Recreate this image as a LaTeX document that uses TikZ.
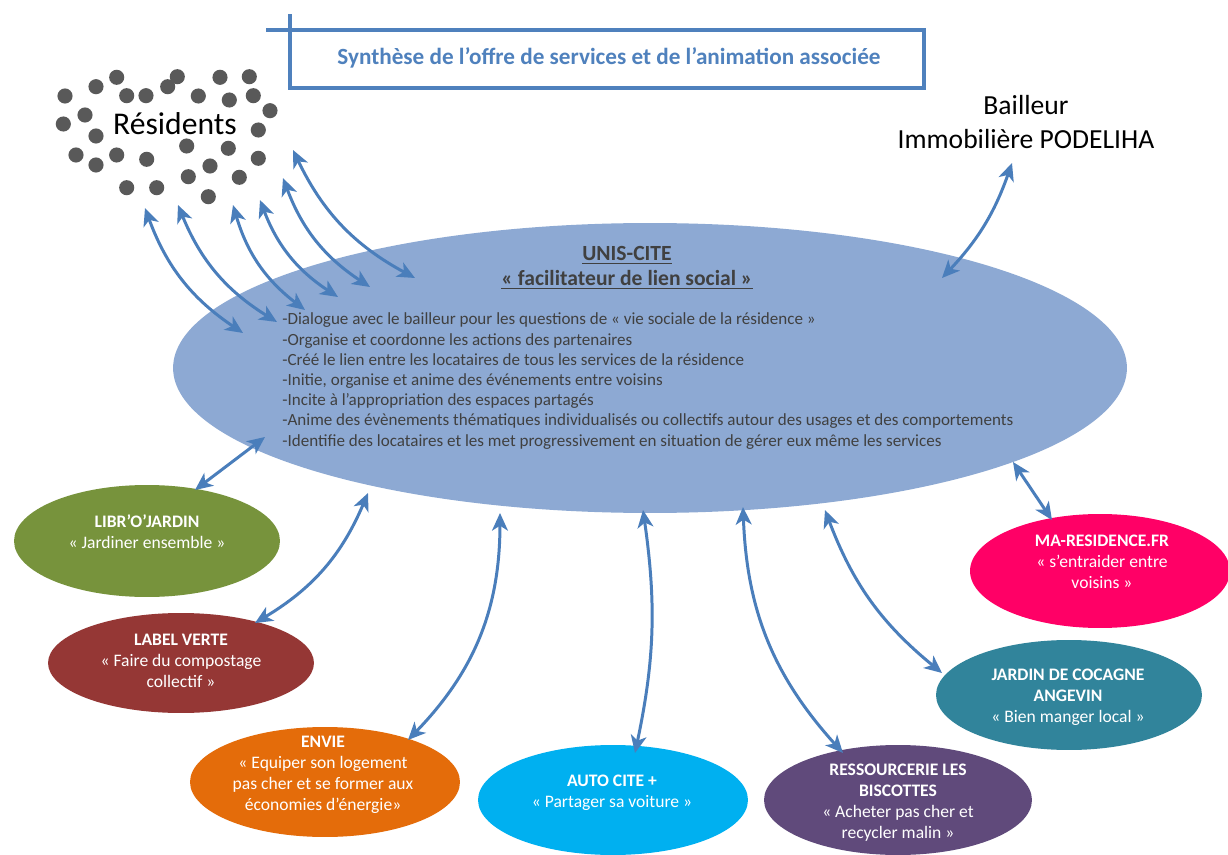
\documentclass[tikz,border=0pt]{standalone}
\usepackage{fontspec}
\setmainfont{Carlito}
\usetikzlibrary{shapes.geometric,arrows.meta}
\definecolor{mainblue}{RGB}{141,169,211}
\definecolor{arrowblue}{RGB}{74,126,187}
\definecolor{boxblue}{RGB}{79,129,189}
\definecolor{dotgray}{RGB}{89,89,89}
\definecolor{txtgray}{RGB}{64,64,64}
\definecolor{cgreen}{RGB}{119,147,60}
\definecolor{cred}{RGB}{149,55,53}
\definecolor{corange}{RGB}{228,108,10}
\definecolor{ccyan}{RGB}{0,176,240}
\definecolor{cpurple}{RGB}{96,74,123}
\definecolor{cteal}{RGB}{49,132,155}
\definecolor{cpink}{RGB}{255,0,102}
\begin{document}
\begin{tikzpicture}[x=0.02cm,y=-0.02cm,
  svc/.style={ellipse, draw=none, inner sep=0pt},
  svctext/.style={text=white, align=center, font=\fontsize{10}{11.9}\selectfont},
  link/.style={draw=arrowblue, line width=1.7pt,
    {Stealth[length=10pt,width=9pt,inset=2.8pt]}-{Stealth[length=10pt,width=9pt,inset=2.8pt]}},
  dot/.style={fill=dotgray},
]
\useasboundingbox (0,0) rectangle (1228,855);
\fill[white] (0,0) rectangle (1228,855);

% title box
\draw[boxblue, line width=2.3pt, line join=miter] (266,30) -- (924,30) -- (924,88) -- (290,88) -- (290,14);
\node[font=\bfseries\fontsize{13.2}{15}\selectfont, text=boxblue] (title) at (609,58)
  {Synthèse de l’offre de services et de l’animation associée};

% residents dots
\foreach \px/\py in {116.7/77.3, 96/86.7, 65/96, 126.7/95.7, 146/95.7, 167.7/86.7, 177.3/76.7,
  198.3/96, 220/77.3, 249.3/76.7, 229.3/100, 253.3/95.7, 270/110.7, 63.3/124, 85/115, 96/136,
  258.3/130, 186.7/146, 228.3/148.3, 76/155, 96/165, 116.7/155, 146.7/159.3, 210/166,
  258.3/158.3, 188.3/176.7, 239.3/177.3, 126.7/187.7, 156.7/187.7, 208.3/196.7}
  \fill[dot] (\px,\py) circle[radius=4.3pt];
\node[font=\fontsize{18}{20}\selectfont] (res) at (175,124) {Résidents};

% bailleur
\node[align=center, font=\fontsize{15.7}{19.8}\selectfont] (bail) at (1026,122)
  {Bailleur\\Immobilière PODELIHA};

% main ellipse
\node[svc, fill=mainblue, minimum width=19.08cm, minimum height=5.8cm] (unis) at (650,368) {};
\node[font=\bfseries\fontsize{12.3}{14}\selectfont, text=txtgray] (unist) at (627,255) {\underline{UNIS-CITE}};
\node[font=\bfseries\fontsize{12.3}{14}\selectfont, text=txtgray] (uniss) at (627,280) {\underline{« facilitateur de lien social »}};
\node[anchor=west, align=left, text=txtgray, font=\fontsize{9.7}{11.5}\selectfont, inner sep=0pt] (unisl) at (282,381)
  {-Dialogue avec le bailleur pour les questions de « vie sociale de la résidence »\\
   -Organise et coordonne les actions des partenaires\\
   -Créé le lien entre les locataires de tous les services de la résidence\\
   -Initie, organise et anime des événements entre voisins\\
   -Incite à l’appropriation des espaces partagés\\
   -Anime des évènements thématiques individualisés ou collectifs autour des usages et des comportements\\
   -Identifie des locataires et les met progressivement en situation de gérer eux même les services};

% service ellipses
\node[svc, fill=cgreen, minimum width=5.32cm, minimum height=2.24cm] (libr) at (147,541) {};
\node[svctext] (librt) at (147,532) {\textbf{LIBR’O’JARDIN}\\« Jardiner ensemble »};

\node[svc, fill=cred, minimum width=5.32cm, minimum height=2.0cm] (label) at (181,663) {};
\node[svctext] (labelt) at (181,661) {\textbf{LABEL VERTE}\\« Faire du compostage\\collectif »};

\node[svc, fill=corange, minimum width=5.4cm, minimum height=2.2cm] (envie) at (325,782) {};
\node[svctext] (enviet) at (323,775) {\textbf{ENVIE}\\« Equiper son logement\\pas cher et se former aux\\économies d’énergie»};

\node[svc, fill=ccyan, minimum width=5.4cm, minimum height=2.2cm] (auto) at (613,800) {};
\node[svctext] (autot) at (612,793) {\textbf{AUTO CITE +}\\« Partager sa voiture »};

\node[svc, fill=cpurple, minimum width=5.36cm, minimum height=2.2cm] (ress) at (898,800) {};
\node[svctext] (resst) at (898,803) {\textbf{RESSOURCERIE LES}\\\textbf{BISCOTTES}\\« Acheter pas cher et\\recycler malin »};

\node[svc, fill=cteal, minimum width=5.32cm, minimum height=2.2cm] (cocagne) at (1069,695) {};
\node[svctext] (cocagnet) at (1068,697) {\textbf{JARDIN DE COCAGNE}\\\textbf{ANGEVIN}\\« Bien manger local »};

\node[svc, fill=cpink, minimum width=5.2cm, minimum height=2.28cm] (mares) at (1100,571) {};
\node[svctext] (marest) at (1102,562) {\textbf{MA-RESIDENCE.FR}\\« s’entraider entre\\voisins »};

% arrow end points
\coordinate (r1a) at (145,208); \coordinate (r1b) at (243,333);
\coordinate (r2a) at (178,205); \coordinate (r2b) at (277,322);
\coordinate (r3a) at (233,205); \coordinate (r3b) at (305,310);
\coordinate (r4a) at (260,200); \coordinate (r4b) at (338,297);
\coordinate (r5a) at (283,178); \coordinate (r5b) at (370,287);
\coordinate (r6a) at (293,150); \coordinate (r6b) at (415,278);
\coordinate (ba) at (1012,163); \coordinate (bb) at (942,278);
\coordinate (l1a) at (265,437); \coordinate (l1b) at (195,490);
\coordinate (l2a) at (368,493); \coordinate (l2b) at (255,623);
\coordinate (l3a) at (500,513); \coordinate (l3b) at (408,740);
\coordinate (l4a) at (643,510); \coordinate (l4b) at (635,753);
\coordinate (l5a) at (743,507); \coordinate (l5b) at (843,753);
\coordinate (l6a) at (825,510); \coordinate (l6b) at (942,673);
\coordinate (l7a) at (1013,462); \coordinate (l7b) at (1052,520);

% arrows
\draw[link] (r1a) to[bend right=18] (r1b);
\draw[link] (r2a) to[bend right=18] (r2b);
\draw[link] (r3a) to[bend right=18] (r3b);
\draw[link] (r4a) to[bend right=18] (r4b);
\draw[link] (r5a) to[bend right=18] (r5b);
\draw[link] (r6a) to[bend right=18] (r6b);
\draw[link] (bb) to[bend right=12] (ba);
\draw[link] (l1a) -- (l1b);
\draw[link] (l2a) to[bend left=18] (l2b);
\draw[link] (l3a) to[bend left=22] (l3b);
\draw[link] (l4a) to[bend left=10] (l4b);
\draw[link] (l5a) to[bend right=20] (l5b);
\draw[link] (l6a) to[bend right=15] (l6b);
\draw[link] (l7a) -- (l7b);
\end{tikzpicture}
\end{document}
